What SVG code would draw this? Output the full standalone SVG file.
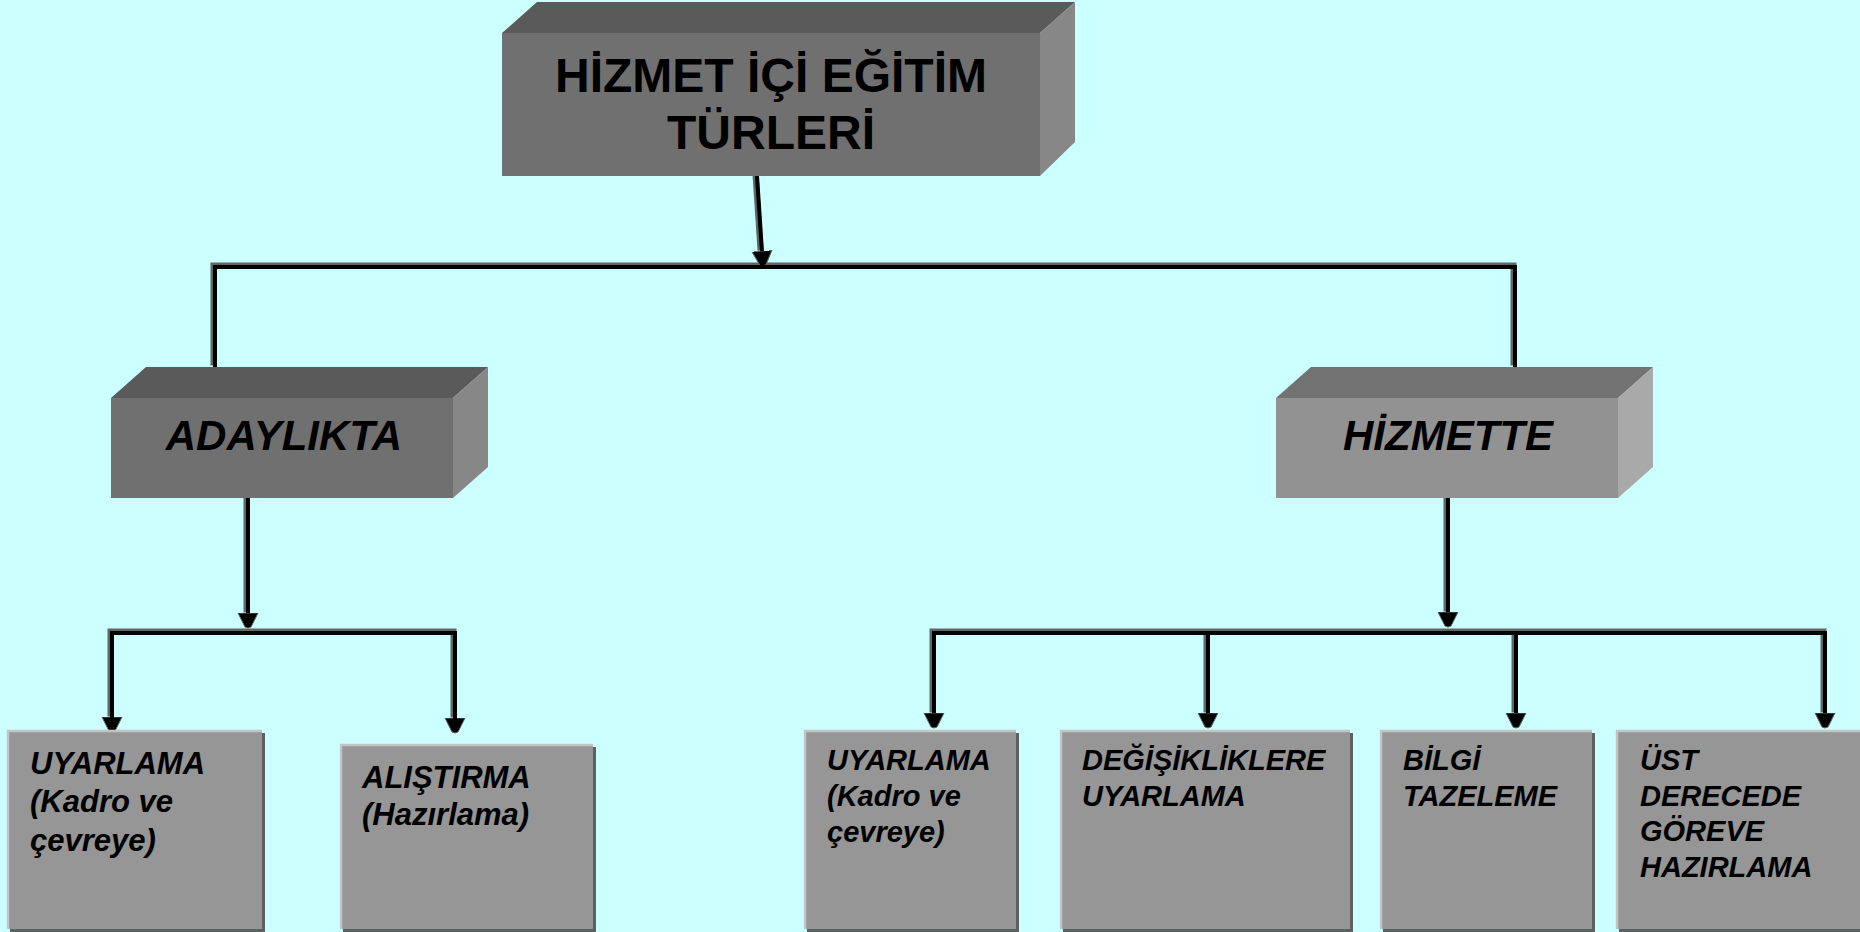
<svg xmlns="http://www.w3.org/2000/svg" width="1860" height="932" viewBox="0 0 1860 932">
<style>
.t{font-family:"Liberation Sans",Arial,sans-serif;font-weight:bold;fill:#000}
.i{font-style:italic}
.sh{fill:none;stroke:#5f6666;stroke-width:6}
.ln{fill:none;stroke:#000;stroke-width:4}
.bx{fill:#969696}
.bs{fill:#5a6262}
.bl{fill:none;stroke:#c4c4c4;stroke-width:2.5}
</style>
<defs>
<marker id="ah" viewBox="0 -11 17 22" markerWidth="17" markerHeight="22" refX="1" refY="0" orient="auto" markerUnits="userSpaceOnUse">
<path d="M0,-10 L14,-3 L15,0 L14,3 L0,10 Z" fill="#000" stroke="#5f6666" stroke-width="1"/>
</marker>
</defs>
<rect width="1860" height="932" fill="#ccffff"/>

<g id="connectors">
<g transform="translate(-1.5,-1.5)">
<path class="sh" d="M757,176 L762,252"/>
<path class="sh" d="M215,367 V267 H1515 V367"/>
<path class="sh" d="M248,498 V614"/>
<path class="sh" d="M112,718 V633 H455 V719"/>
<path class="sh" d="M1448,498 V613"/>
<path class="sh" d="M934,714 V633 H1825 V714"/>
<path class="sh" d="M1208,633 V714"/>
<path class="sh" d="M1516,633 V714"/>
</g>
<path class="ln" d="M757,176 L762,252" marker-end="url(#ah)"/>
<path class="ln" d="M215,367 V267 H1515 V367"/>
<path class="ln" d="M248,498 V614" marker-end="url(#ah)"/>
<path class="ln" d="M112,633 V718" marker-end="url(#ah)"/>
<path class="ln" d="M455,633 V719" marker-end="url(#ah)"/>
<path class="ln" d="M112,718 V633 H455 V719"/>
<path class="ln" d="M1448,498 V613" marker-end="url(#ah)"/>
<path class="ln" d="M934,714 V633 H1825 V714"/>
<path class="ln" d="M934,633 V714" marker-end="url(#ah)"/>
<path class="ln" d="M1208,633 V714" marker-end="url(#ah)"/>
<path class="ln" d="M1516,633 V714" marker-end="url(#ah)"/>
<path class="ln" d="M1825,633 V714" marker-end="url(#ah)"/>
</g>

<g id="root">
<polygon points="502,33 537,2 1075,2 1040,33" fill="#5a5a5a"/>
<polygon points="1040,33 1075,2 1075,142 1040,176" fill="#878787"/>
<rect x="502" y="33" width="538" height="143" fill="#707070"/>
<text class="t" x="771" y="92" font-size="48" text-anchor="middle">HİZMET İÇİ EĞİTİM</text>
<text class="t" x="771" y="149" font-size="48" text-anchor="middle">TÜRLERİ</text>
</g>

<g id="adaylikta">
<polygon points="111,398 146,367 488,367 453,398" fill="#5a5a5a"/>
<polygon points="453,398 488,367 488,467 453,498" fill="#878787"/>
<rect x="111" y="398" width="342" height="100" fill="#707070"/>
<text class="t i" x="284" y="450" font-size="42" text-anchor="middle">ADAYLIKTA</text>
</g>

<g id="hizmette">
<polygon points="1276,398 1311,367 1653,367 1618,398" fill="#727272"/>
<polygon points="1618,398 1653,367 1653,467 1618,498" fill="#a9a9a9"/>
<rect x="1276" y="398" width="342" height="100" fill="#929292"/>
<text class="t i" x="1448" y="450" font-size="42" text-anchor="middle">HİZMETTE</text>
</g>

<g id="uyarlama1">
<rect class="bs" x="10" y="733" width="255" height="199"/>
<rect class="bx" x="7" y="730" width="255" height="199"/>
<path class="bl" d="M8,929 V731 H262"/>
<text class="t i" x="30" y="774" font-size="31">UYARLAMA</text>
<text class="t i" x="30" y="812" font-size="31">(Kadro ve</text>
<text class="t i" x="30" y="851" font-size="31">çevreye)</text>
</g>

<g id="alistirma">
<rect class="bs" x="343" y="747" width="253" height="185"/>
<rect class="bx" x="340" y="744" width="253" height="185"/>
<path class="bl" d="M341,929 V745 H593"/>
<text class="t i" x="362" y="788" font-size="31">ALIŞTIRMA</text>
<text class="t i" x="362" y="825" font-size="31">(Hazırlama)</text>
</g>

<g id="uyarlama2">
<rect class="bs" x="807" y="733" width="212" height="199"/>
<rect class="bx" x="804" y="730" width="212" height="199"/>
<path class="bl" d="M805,929 V731 H1016"/>
<text class="t i" x="827" y="770" font-size="29">UYARLAMA</text>
<text class="t i" x="827" y="806" font-size="29">(Kadro ve</text>
<text class="t i" x="827" y="842" font-size="29">çevreye)</text>
</g>

<g id="degisiklikler">
<rect class="bs" x="1063" y="733" width="290" height="199"/>
<rect class="bx" x="1060" y="730" width="290" height="199"/>
<path class="bl" d="M1061,929 V731 H1350"/>
<text class="t i" x="1082" y="770" font-size="29">DEĞİŞİKLİKLERE</text>
<text class="t i" x="1082" y="806" font-size="29">UYARLAMA</text>
</g>

<g id="bilgi">
<rect class="bs" x="1383" y="733" width="212" height="199"/>
<rect class="bx" x="1380" y="730" width="212" height="199"/>
<path class="bl" d="M1381,929 V731 H1592"/>
<text class="t i" x="1403" y="770" font-size="29">BİLGİ</text>
<text class="t i" x="1403" y="806" font-size="29">TAZELEME</text>
</g>

<g id="ust">
<rect class="bs" x="1619" y="733" width="250" height="199"/>
<rect class="bx" x="1616" y="730" width="250" height="199"/>
<path class="bl" d="M1617,929 V731 H1860"/>
<text class="t i" x="1640" y="770" font-size="29">ÜST</text>
<text class="t i" x="1640" y="806" font-size="29">DERECEDE</text>
<text class="t i" x="1640" y="841" font-size="29">GÖREVE</text>
<text class="t i" x="1640" y="877" font-size="29">HAZIRLAMA</text>
</g>
</svg>
